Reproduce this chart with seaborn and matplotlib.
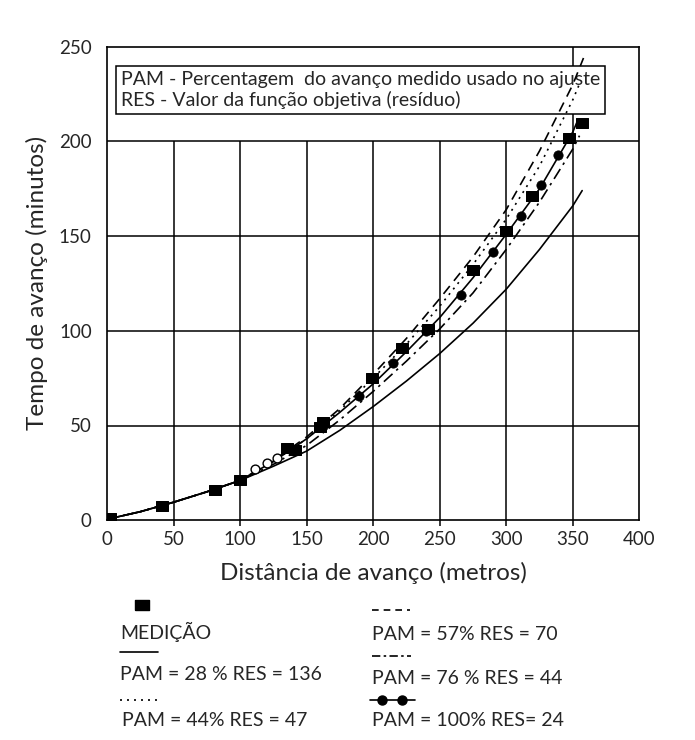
import numpy as np
import pandas as pd
import matplotlib
matplotlib.use('Agg')
import matplotlib.pyplot as plt
from matplotlib.lines import Line2D
import seaborn as sns

# Medição (measured advance)
med_x = [2, 41, 81, 100, 135, 141, 160, 162, 199, 222, 241, 275, 300, 319, 347, 357]
med_y = [1, 7.5, 16, 21, 38, 37, 49, 52, 75, 91, 101, 132, 152.5, 171, 202, 209.5]

# fitted curves (read at common x positions)
curve_x = [0, 25, 50, 75, 100, 125, 150, 175, 200, 225, 250, 275, 300, 325, 350]
pam28_y = [0.5, 4.5, 9.5, 15, 21, 28.5, 36.5, 47.5, 60, 73.5, 88, 104, 122, 143, 166]
pam44_y = [0.5, 4.5, 9.5, 15, 21, 31, 43, 58, 75, 93, 113, 135, 159, 187, 222]
pam57_y = [0.5, 4.5, 9.5, 15, 21, 31.5, 44, 59, 77, 96, 117, 139, 164, 195, 230]
pam76_y = [0.5, 4.5, 9.5, 15, 21, 29.5, 39.5, 53, 68, 84, 101, 120, 143, 168, 196]
pam100_y = [0.5, 4.5, 9.5, 15, 21, 31, 43, 57, 72, 89, 107, 128, 151, 175, 205]
# end points of each curve
end_x = {'28': 357, '44': 356, '57': 358, '76': 355, '100': 353}
end_y = {'28': 174, '44': 232, '57': 244, '76': 203, '100': 210}

# markers on PAM = 100% curve
circ_x = [137, 162, 189, 215, 240, 266, 290, 311, 326, 339]
circ_y = [38, 50, 65.5, 83, 100, 119, 141.5, 160.5, 177, 193]
open_x = [111, 120, 128]
open_y = [27, 30, 33]

xticks = [0, 50, 100, 150, 200, 250, 300, 350, 400]
yticks = [0, 50, 100, 150, 200, 250]

sns.set_style('white')
plt.rcParams['font.family'] = ['Lato', 'DejaVu Sans']

fig = plt.figure(figsize=(6.95, 7.4), dpi=100)
ax = fig.add_axes([0.154, 0.297, 0.766, 0.64])

# grid (vertical lines stop under the note box, except x=350)
for xv in xticks[1:-1]:
    top = 250 if xv == 350 else 200
    ax.vlines(xv, -3, top, color='black', lw=1.1, zorder=1, clip_on=False)
for yv in yticks[1:-1]:
    ax.axhline(yv, color='black', lw=1.1, zorder=1)

styles = {
    '28': dict(ls='-'),
    '44': dict(ls=(0, (1.2, 3))),
    '57': dict(ls=(0, (6, 4))),
    '76': dict(ls=(0, (7, 3, 1.5, 3))),
    '100': dict(ls='-'),
}
series = {'28': pam28_y, '44': pam44_y, '57': pam57_y, '76': pam76_y, '100': pam100_y}
for key, ys in series.items():
    df = pd.DataFrame({'x': curve_x + [end_x[key]], 'y': ys + [end_y[key]]})
    sns.lineplot(data=df, x='x', y='y', ax=ax, color='black', lw=1.2,
                 zorder=4, **styles[key])

sns.scatterplot(x=circ_x, y=circ_y, ax=ax, color='black', s=45,
                marker='o', edgecolor='black', zorder=5)
sns.scatterplot(x=open_x, y=open_y, ax=ax, color='white', s=40,
                marker='o', edgecolor='black', linewidth=1, zorder=5)

rect = [(-1.35, -1), (1.35, -1), (1.35, 1), (-1.35, 1), (-1.35, -1)]
sns.scatterplot(x=med_x, y=med_y, ax=ax, color='black', s=80,
                marker=rect, edgecolor='black', zorder=6)

# note box
ax.text(0.026, 0.948,
        'PAM - Percentagem  do avanço medido usado no ajuste\n'
        'RES - Valor da função objetiva (resíduo)',
        transform=ax.transAxes, ha='left', va='top', fontsize=14,
        linespacing=1.2, zorder=3,
        bbox=dict(boxstyle='square,pad=0.25', fc='white', ec='black', lw=1.1))

ax.set_xlim(0, 400)
ax.set_ylim(0, 250)
ax.set_xticks(xticks)
ax.set_yticks(yticks)
ax.tick_params(axis='y', length=9, width=1.1, color='black', labelsize=13.5, pad=2)
ax.tick_params(axis='x', length=0, labelsize=13.5, pad=8)
for sp in ax.spines.values():
    sp.set_color('black')
    sp.set_linewidth(1.2)
ax.set_xlabel('Distância de avanço (metros)', fontsize=17.5, labelpad=10)
ax.set_ylabel('Tempo de avanço (minutos)', fontsize=17.5, labelpad=8)

# legend below the plot (key above each label)
fs = 14
fig.text(0.173, 1 - 632 / 740, 'MEDIÇÃO', fontsize=fs, va='center')
fig.add_artist(Line2D([0.204], [1 - 605 / 740], marker=rect, ms=10,
                      color='black', ls='none'))
fig.add_artist(Line2D([0.173, 0.228], [1 - 652 / 740] * 2, color='black', lw=1.2))
fig.text(0.173, 1 - 675 / 740, 'PAM = 28 % RES = 136', fontsize=fs, va='center')
fig.add_artist(Line2D([0.173, 0.228], [1 - 700 / 740] * 2, color='black', lw=1.2,
                      ls=(0, (1.2, 3))))
fig.text(0.176, 1 - 720 / 740, 'PAM = 44% RES = 47', fontsize=fs, va='center')

fig.add_artist(Line2D([0.535, 0.59], [1 - 610 / 740] * 2, color='black', lw=1.2,
                      ls=(0, (4, 3))))
fig.text(0.535, 1 - 634 / 740, 'PAM = 57% RES = 70', fontsize=fs, va='center')
fig.add_artist(Line2D([0.535, 0.592], [1 - 656 / 740] * 2, color='black', lw=1.2,
                      ls=(0, (5, 2, 1.5, 2))))
fig.text(0.535, 1 - 678 / 740, 'PAM = 76 % RES = 44', fontsize=fs, va='center')
fig.add_artist(Line2D([0.532, 0.597], [1 - 700 / 740] * 2, color='black', lw=1.2))
fig.add_artist(Line2D([0.55, 0.578], [1 - 700 / 740] * 2, color='black', ls='none',
                      marker='o', ms=6.5))
fig.text(0.535, 1 - 720 / 740, 'PAM = 100% RES= 24', fontsize=fs, va='center')

fig.savefig('out.png', dpi=100)
